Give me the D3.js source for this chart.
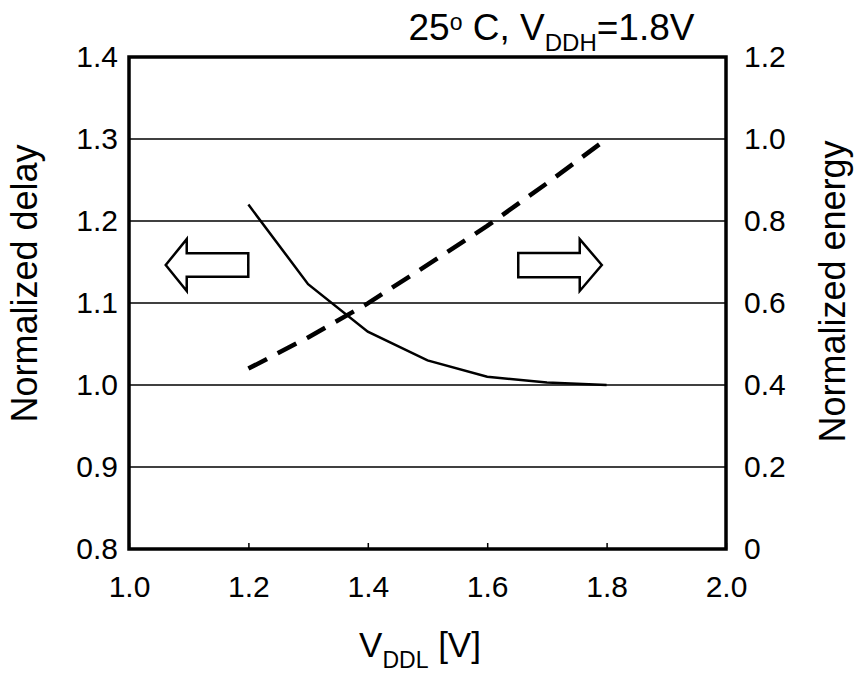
<!DOCTYPE html>
<html>
<head>
<meta charset="utf-8">
<script src="https://cdn.jsdelivr.net/npm/d3@7"></script>
<style>
  html, body { margin: 0; padding: 0; background: #fff; }
  svg text { font-family: "Liberation Sans", Arial, sans-serif; fill: #000; }
</style>
</head>
<body>
<svg id="chart" width="855" height="673"></svg>
<script>
// ---- data ----
const vddl = [1.2, 1.3, 1.4, 1.5, 1.6, 1.7, 1.8];
const delay = [1.22, 1.123, 1.065, 1.030, 1.010, 1.003, 1.000];
const energy = [0.44, 0.516, 0.599, 0.693, 0.788, 0.892, 1.0];
const xTicks = [1.0, 1.2, 1.4, 1.6, 1.8, 2.0];
const yLeftTicks = [0.8, 0.9, 1.0, 1.1, 1.2, 1.3, 1.4];
const yRightTicks = [0, 0.2, 0.4, 0.6, 0.8, 1.0, 1.2];
const gridTicks = [0.9, 1.0, 1.1, 1.2, 1.3];
// arrow annotations (x in V, y on the delay axis)
const leftArrow = { tip: 1.0615, base: 1.0967, tail: 1.1998, cy: 1.1463, headHalf: 0.0316, shaftHalf: 0.0143 };
const rightArrow = { tip: 1.792, base: 1.755, tail: 1.652, cy: 1.1463, headHalf: 0.0316, shaftHalf: 0.0148 };

const svg = d3.select("#chart");
const L = 129, R = 726, T = 57, B = 549;
const x = d3.scaleLinear().domain([1.0, 2.0]).range([L, R]);
const yL = d3.scaleLinear().domain([0.8, 1.4]).range([B, T]);
const yR = d3.scaleLinear().domain([0, 1.2]).range([B, T]);

// gridlines
svg.append("g").selectAll("line").data(gridTicks).join("line")
  .attr("x1", L).attr("x2", R)
  .attr("y1", d => yL(d)).attr("y2", d => yL(d))
  .attr("stroke", "#000").attr("stroke-width", 1.5);

// bottom axis (inward ticks)
const gx = svg.append("g").attr("transform", `translate(0,${B})`)
  .call(d3.axisBottom(x).tickValues(xTicks).tickFormat(d3.format(".1f")).tickSizeInner(-6).tickSizeOuter(0));
gx.select(".domain").remove();
gx.selectAll(".tick line").attr("stroke", "#000").attr("stroke-width", 1.5);
gx.selectAll(".tick text").attr("font-size", 30).attr("dy", "0.71em").attr("y", 26.5);

// left axis labels
const gl = svg.append("g").attr("transform", `translate(${L},0)`)
  .call(d3.axisLeft(yL).tickValues(yLeftTicks).tickFormat(d3.format(".1f")).tickSize(0).tickPadding(11));
gl.select(".domain").remove();
gl.selectAll(".tick text").attr("font-size", 30);

// right axis labels
const gr = svg.append("g").attr("transform", `translate(${R},0)`)
  .call(d3.axisRight(yR).tickValues(yRightTicks).tickFormat(d => d === 0 ? "0" : d3.format(".1f")(d)).tickSize(0).tickPadding(18));
gr.select(".domain").remove();
gr.selectAll(".tick text").attr("font-size", 30);

// frame
svg.append("rect").attr("x", L).attr("y", T).attr("width", R - L).attr("height", B - T)
  .attr("fill", "none").attr("stroke", "#000").attr("stroke-width", 3.5);

// delay (solid)
svg.append("path").datum(vddl.map((v, i) => [v, delay[i]]))
  .attr("fill", "none").attr("stroke", "#000").attr("stroke-width", 2.5)
  .attr("d", d3.line().x(d => x(d[0])).y(d => yL(d[1])));

// energy (dashed)
svg.append("path").datum(vddl.map((v, i) => [v, energy[i]]))
  .attr("fill", "none").attr("stroke", "#000").attr("stroke-width", 4.5)
  .attr("stroke-dasharray", "21,12")
  .attr("d", d3.line().x(d => x(d[0])).y(d => yR(d[1])));

// arrows
function arrowPts(a) {
  return [
    [x(a.tip), yL(a.cy)],
    [x(a.base), yL(a.cy + a.headHalf)],
    [x(a.base), yL(a.cy + a.shaftHalf)],
    [x(a.tail), yL(a.cy + a.shaftHalf)],
    [x(a.tail), yL(a.cy - a.shaftHalf)],
    [x(a.base), yL(a.cy - a.shaftHalf)],
    [x(a.base), yL(a.cy - a.headHalf)]
  ];
}
[leftArrow, rightArrow].forEach(a => {
  svg.append("polygon").attr("points", arrowPts(a).map(p => p.join(",")).join(" "))
    .attr("fill", "#fff").attr("stroke", "#000").attr("stroke-width", 2.5)
    .attr("stroke-linejoin", "miter");
});

// axis titles
svg.append("text").attr("transform", `translate(37,283.5) rotate(-90)`)
  .attr("text-anchor", "middle").attr("font-size", 36).text("Normalized delay");
svg.append("text").attr("transform", `translate(845,291.5) rotate(-90)`)
  .attr("text-anchor", "middle").attr("font-size", 36).text("Normalized energy");

// x title
const xt = svg.append("text").attr("x", 420).attr("y", 657).attr("text-anchor", "middle").attr("font-size", 35);
xt.append("tspan").text("V");
xt.append("tspan").attr("font-size", 23).attr("dy", 11).text("DDL");
xt.append("tspan").attr("dy", -11).text(" [V]");

// top-right condition
const tt = svg.append("text").attr("x", 551.5).attr("y", 40).attr("text-anchor", "middle").attr("font-size", 37);
tt.append("tspan").text("25");
tt.append("tspan").attr("font-size", 23).attr("dy", -10).text("o");
tt.append("tspan").attr("dy", 10).text(" C, V");
tt.append("tspan").attr("font-size", 24).attr("dy", 11).text("DDH");
tt.append("tspan").attr("dy", -11).text("=1.8V");
</script>
</body>
</html>
